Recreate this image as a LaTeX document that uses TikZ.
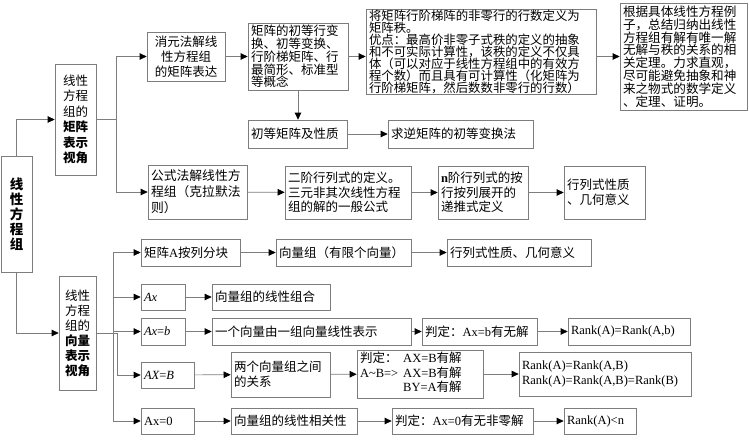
\documentclass[tikz,border=0pt]{standalone}
\usepackage{fontspec}
\setmainfont{Noto Sans CJK SC}
\newfontfamily\latinfont{Liberation Serif}
\usepackage{tikz}
\usetikzlibrary{arrows.meta}
\usetikzlibrary{positioning}
\definecolor{linegray}{RGB}{125,125,125}
\newcommand{\fs}[2]{\fontsize{#1}{#2}\selectfont}
\newcommand{\lat}[1]{{\latinfont #1}}
\newcommand{\lit}[1]{{\latinfont\itshape #1}}
\tikzset{>={Triangle[length=7pt,width=6.5pt,color=black]}}
\tikzstyle{box} = [rectangle, draw=linegray, line width=0.7pt, inner xsep=3pt, inner ysep=0pt, align=left, font=\fs{12.5}{15}]
\tikzstyle{link} = [->, draw=linegray, line width=0.7pt]
\tikzstyle{wire} = [-, draw=linegray, line width=0.7pt]

\begin{document}
\begin{tikzpicture}[x=1pt, y=-1pt]
\useasboundingbox (0, 0) rectangle (749, 439);
% root and the two views
\node [box, text width=25, minimum height=116, align=center, font=\fs{13.5}{15}\bfseries] (root) at (16.5, 214) {线\\性\\方\\程\\组};
\node [box, text width=35, minimum height=111, align=center, font=\fs{12.5}{15.5}] (matview) at (75.5, 119.5) {线性\\方程\\组的\\\textbf{矩阵}\\\textbf{表示}\\\textbf{视角}};
\node [box, text width=31, minimum height=114, align=center, font=\fs{12.5}{15}] (vecview) at (77.5, 333) {线性\\方程\\组的\\\textbf{向量}\\\textbf{表示}\\\textbf{视角}};

% matrix view
\node [box, text width=72, minimum height=49, align=center] (xiaoyuan) at (186, 56.5) {消元法解线\\性方程组\\的矩阵表达};
\node [box, text width=94, minimum height=67, font=\fs{12.5}{12.8}] (juzhen) at (298, 56.5) {矩阵的初等行变\\换、初等变换、\\行阶梯矩阵、行\\最简形、标准型\\等概念};
\node [box, text width=224, minimum height=85, font=\fs{12.4}{12}] (jiang) at (481, 51.5) {将矩阵行阶梯阵的非零行的行数定义为\\矩阵秩。\\优点：最高价非零子式秩的定义的抽象\\和不可实际计算性，该秩的定义不仅具\\体（可以对应于线性方程组中的有效方\\程个数）而且具有可计算性（化矩阵为\\行阶梯矩阵，然后数数非零行的行数）};
\node [box, text width=121, minimum height=107, font=\fs{12.6}{12.8}] (genju) at (683.5, 56.5) {根据具体线性方程例\\子，总结归纳出线性\\方程组有解有唯一解\\无解与秩的关系的相\\关定理。力求直观，\\尽可能避免抽象和神\\来之物式的数学定义\\、定理、证明。};
\node [box, text width=93, minimum height=28] (chudeng) at (297.5, 134) {初等矩阵及性质};
\node [box, text width=139, minimum height=28] (qiuni) at (460.5, 134) {求逆矩阵的初等变换法};
\node [box, text width=93, minimum height=54, font=\fs{12.8}{16}] (gongshi) at (197.5, 192) {公式法解线性方\\程组（克拉默法\\则）};
\node [box, text width=120, minimum height=53, font=\fs{12.5}{14.5}] (erjie) at (348, 192.5) {二阶行列式的定义。\\三元非其次线性方程\\组的解的一般公式};
\node [box, text width=84, minimum height=53, font=\fs{12.5}{14.5}] (njie) at (483, 192.5) {\lat{\textbf{n}}阶行列式的按\\行按列展开的\\递推式定义};
\node [box, text width=75, minimum height=53, font=\fs{12.5}{14.5}] (hanglie) at (604.5, 192.5) {行列式性质\\、几何意义};

% vector view
\node [box, text width=93, minimum height=27] (fenkuai) at (190.5, 252.5) {矩阵\lat{A}按列分块};
\node [box, text width=129, minimum height=27] (xlz) at (343.5, 252.5) {向量组（有限个向量）};
\node [box, text width=138, minimum height=27] (hanglie2) at (519, 252.5) {行列式性质、几何意义};
\node [box, text width=38, minimum height=26] (ax) at (163, 297) {\lit{Ax}};
\node [box, text width=112, minimum height=26] (zuhe) at (271, 297) {向量组的线性组合};
\node [box, text width=38, minimum height=27] (axb) at (163, 331.5) {\lit{Ax}\lat{=}\lit{b}};
\node [box, text width=193, minimum height=27] (biaoshi) at (311.5, 331.5) {一个向量由一组向量线性表示};
\node [box, text width=109, minimum height=27] (pandingb) at (479.5, 331.5) {判定：\lat{Ax=b}有无解};
\node [box, text width=116, minimum height=27] (rankb) at (629, 331.5) {\lat{Rank(A)=Rank(A,b)}};
\node [box, text width=47, minimum height=26] (axB) at (167.5, 375) {\lit{AX}\lat{=}\lit{B}};
\node [box, text width=93, minimum height=45] (guanxi) at (280.5, 374.5) {两个向量组之间\\的关系};
\node [box, text width=120, minimum height=48, font=\fs{12.5}{13}] (pandingB) at (420, 374) {\begin{tabular}{@{}l@{\hspace{5pt}}l@{}}判定： & \lat{AX=B}有解\\\lat{A\textasciitilde B=>} & \lat{AX=B}有解\\ & \lat{BY=A}有解\end{tabular}};
\node [box, text width=166, minimum height=44] (rankB) at (605, 374) {\lat{Rank(A)=Rank(A,B)}\\\lat{Rank(A)=Rank(A,B)=Rank(B)}};
\node [box, text width=47, minimum height=26] (ax0) at (167.5, 421) {\lat{Ax=0}};
\node [box, text width=120, minimum height=26] (xiangguan) at (294, 421) {向量组的线性相关性};
\node [box, text width=135, minimum height=26] (panding0) at (462.5, 421) {判定：\lat{Ax=0}有无非零解};
\node [box, text width=66, minimum height=26] (rank0) at (600, 421) {\lat{Rank(A)<n}};

% connectors
\draw [link] (root.north) |- (matview.west);
\draw [link] (root.south) |- (vecview.west);
\coordinate (mfork) at (116, 119.5);
\draw [wire] (matview.east) -- (mfork);
\draw [link] (mfork) |- (xiaoyuan.west);
\draw [link] (mfork) |- (gongshi.west);
\draw [link] (juzhen.east) -- (juzhen.east -| jiang.west);
\draw [link] (jiang.east |- genju.west) -- (genju.west);
\draw [link] (juzhen.south) -- (juzhen.south |- chudeng.north);
\coordinate (vfork) at (117, 333);
\coordinate (vtrunk) at (113, 252.5);
\draw [wire] (vecview.east) -- (vfork);
\draw [link] (vfork) |- (axB.west);
\draw [link] (vtrunk) -- (fenkuai.west);
\draw [link] (vtrunk) |- (ax.west);
\draw [link] (vtrunk) |- (axb.west);
\draw [link] (vtrunk) |- (ax0.west);
\foreach \a/\b in {xiaoyuan/juzhen, chudeng/qiuni, gongshi/erjie, erjie/njie, njie/hanglie,
  fenkuai/xlz, xlz/hanglie2, ax/zuhe, axb/biaoshi, biaoshi/pandingb, pandingb/rankb,
  axB/guanxi, guanxi/pandingB, pandingB/rankB, ax0/xiangguan, xiangguan/panding0, panding0/rank0}
  \draw [link] (\a) -- (\b);
\end{tikzpicture}
\end{document}
